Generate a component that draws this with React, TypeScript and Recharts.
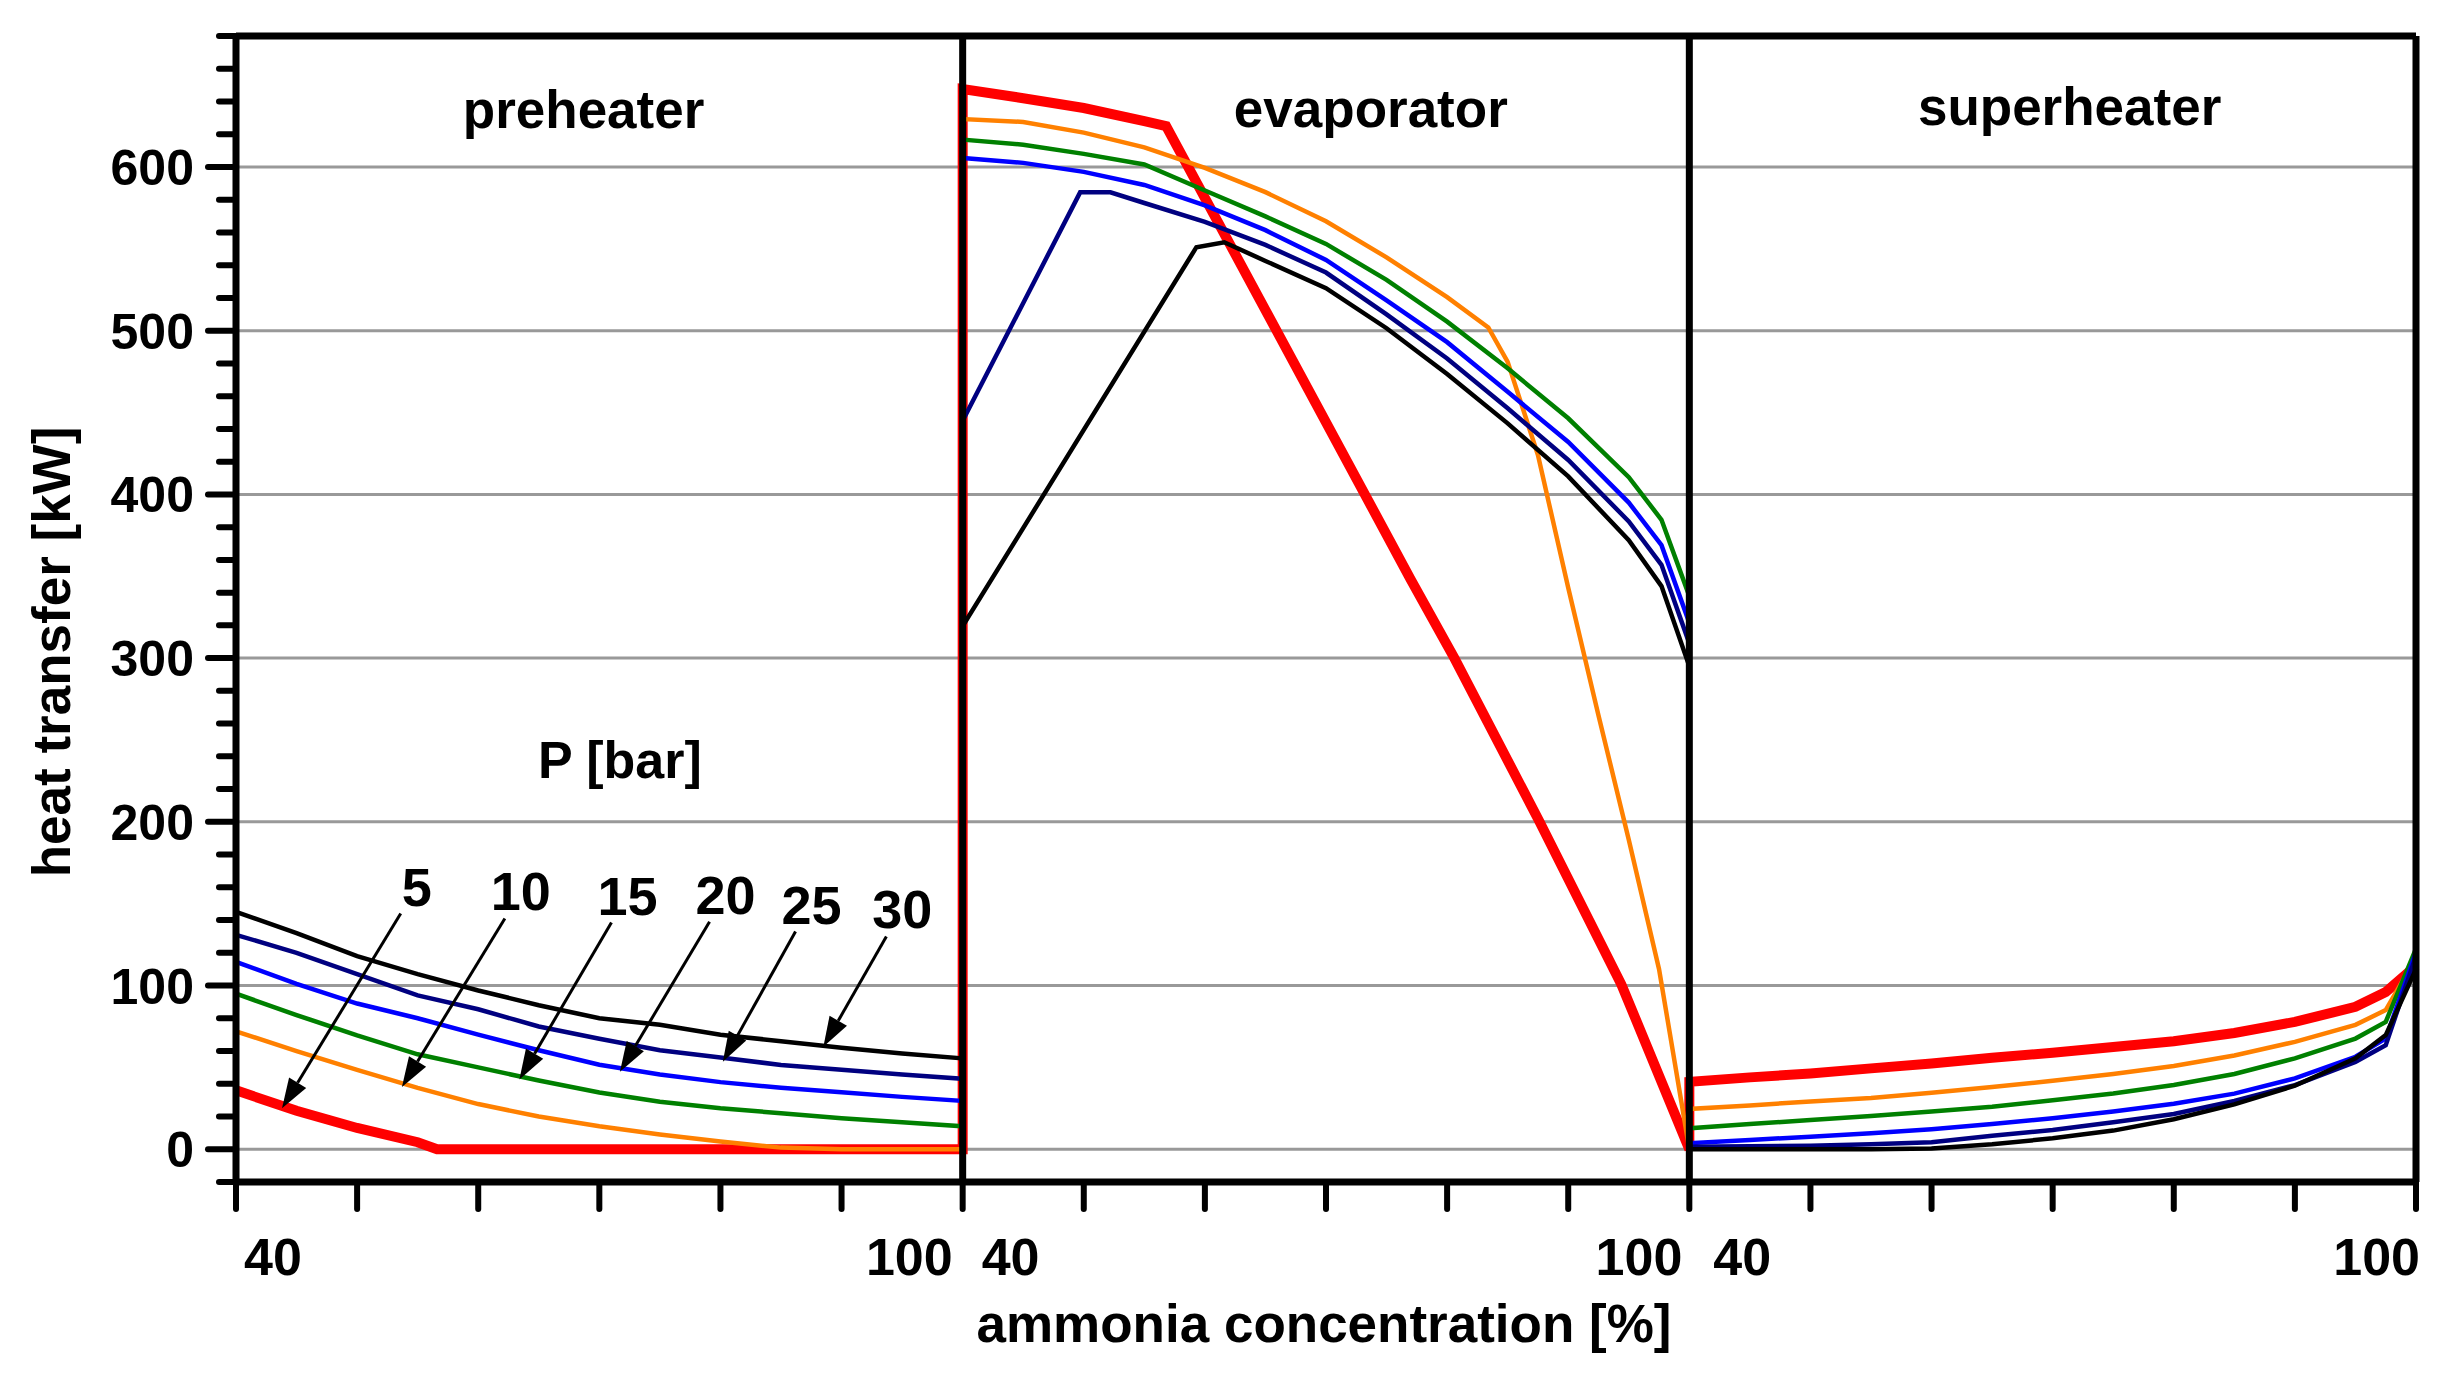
import React from 'react';
import {
  LineChart,
  Line,
  XAxis,
  YAxis,
  ReferenceLine,
  ReferenceDot,
  Label,
} from 'recharts';

// concentration grids [%] for each heat exchanger section
const GRID_5 = [40, 45, 50, 55, 60, 65, 70, 75, 80, 85, 90, 95, 100];
const GRID_EVAP = [40, 45, 50, 55, 60, 65, 70, 75, 80, 85, 90, 95, 97.7, 100];
const GRID_SUPER = [40, 45, 50, 55, 60, 65, 70, 75, 80, 85, 90, 95, 97.5, 100];

// preheater heat transfer [kW]
const PRE_RED_X = [40, 45, 50, 55, 56.6, 100];
const PRE_RED = [36, 23.5, 13, 4.3, 0, 0];
const PRE_ORANGE = [72, 60, 48.5, 37.5, 27.6, 20, 14, 9, 4.7, 1, 0, 0, 0];
const PRE_GREEN = [95, 82, 69.5, 58, 50, 42, 34.7, 29, 25, 22, 19, 16.5, 14];
const PRE_BLUE = [114.5, 101, 89, 80, 70, 60.5, 51.6, 45.7, 41, 37.6, 34.8, 32, 29.5];
const PRE_NAVY = [131, 120, 107, 94, 85.5, 75, 67.5, 60.5, 56, 51.5, 48.5, 45.7, 43];
const PRE_BLACK = [145, 132, 118, 107, 97, 88, 80, 76, 70, 66, 62, 58.5, 55.5];

// evaporator heat transfer [kW]
const EVAP_RED_X = [40, 45, 50, 55, 56.8, 77, 80.6, 87.6, 94.4, 100];
const EVAP_RED = [647.6, 642, 636, 628, 625, 348, 300, 200.5, 100.5, 0];
const EVAP_ORANGE_X = [40, 45, 50, 55, 60, 65, 70, 75, 80, 83.4, 85, 87.5, 90, 92.5, 95, 97.5, 100];
const EVAP_ORANGE = [629.3, 627.5, 621, 612, 599.5, 584.6, 566.8, 544.8, 520.5, 502, 481, 424, 343, 265, 189, 110, 0];
const EVAP_GREEN = [616.7, 613.6, 608, 601.5, 585.6, 569.8, 553, 531, 505.5, 477, 446.5, 410.5, 384.5, 337.8];
const EVAP_BLUE = [605.5, 602.5, 597, 589, 576.5, 561.4, 543.2, 518.5, 493, 462.7, 432, 395, 369, 321.5];
const EVAP_NAVY_X = [40, 49.7, 52.2, 55, 60, 65, 70, 75, 80, 85, 90, 95, 97.7, 100];
const EVAP_NAVY = [445, 584.5, 584.5, 578, 566.5, 552.4, 535.5, 510, 483, 452.6, 421, 383.5, 357, 309];
const EVAP_BLACK_X = [40, 59.3, 61.6, 65, 70, 75, 80, 85, 90, 95, 97.7, 100];
const EVAP_BLACK = [319.5, 551, 554, 542.6, 526, 501.5, 473.5, 443.4, 411, 372, 344, 295];

// superheater heat transfer [kW]
const SUP_RED = [41.2, 43.9, 46.3, 49.4, 52.4, 55.9, 59, 62.4, 66, 71, 77.8, 87, 96, 112];
const SUP_ORANGE = [24.6, 26.8, 29.2, 31.3, 34.5, 38, 41.8, 46, 50.8, 57.3, 65.6, 76, 85, 117];
const SUP_GREEN = [12.8, 15.4, 17.9, 20.3, 23, 26, 29.9, 34, 39.2, 46, 55.5, 67.6, 77.8, 122.5];
const SUP_BLUE = [3.7, 5.7, 7.7, 9.8, 12.2, 15.4, 18.9, 23, 27.8, 34, 43.3, 56.5, 67.6, 120.5];
const SUP_NAVY = [1.6, 1.8, 2.2, 3, 4.3, 8.3, 11.8, 16.5, 21.5, 29.5, 39.2, 53.4, 63.6, 118];
const SUP_BLACK = [0, 0, 0, 0, 0.5, 3, 6.7, 11.4, 18.3, 27.4, 38.8, 55.5, 69.7, 110];

const PANEL_NAMES = ['preheater', 'evaporator', 'superheater'];
const PRESSURES = [5, 10, 15, 20, 25, 30];
const Y_TICKS = Array.from({ length: 36 }, (_, i) => -20 + i * 20);
const Y_GRID = [0, 100, 200, 300, 400, 500, 600];
const X_TICKS = Array.from({ length: 19 }, (_, i) => 40 + i * 10);

// the three sections share one x axis, each shifted by 60
const PANEL_SHIFT = 60;

const join = (parts: [number[], number[]][]) =>
  parts.flatMap(([xs, ys], p) => xs.map((c, i) => ({ x: c + p * PANEL_SHIFT, y: ys[i] })));

const SERIES = [
  { p: 5, color: '#ff0000', width: 10, data: join([[PRE_RED_X, PRE_RED], [EVAP_RED_X, EVAP_RED], [GRID_SUPER, SUP_RED]]) },
  { p: 10, color: '#ff8000', width: 4.5, data: join([[GRID_5, PRE_ORANGE], [EVAP_ORANGE_X, EVAP_ORANGE], [GRID_SUPER, SUP_ORANGE]]) },
  { p: 15, color: '#008000', width: 4.5, data: join([[GRID_5, PRE_GREEN], [GRID_EVAP, EVAP_GREEN], [GRID_SUPER, SUP_GREEN]]) },
  { p: 20, color: '#0000ff', width: 4.5, data: join([[GRID_5, PRE_BLUE], [GRID_EVAP, EVAP_BLUE], [GRID_SUPER, SUP_BLUE]]) },
  { p: 25, color: '#000080', width: 4.5, data: join([[GRID_5, PRE_NAVY], [EVAP_NAVY_X, EVAP_NAVY], [GRID_SUPER, SUP_NAVY]]) },
  { p: 30, color: '#000000', width: 4.5, data: join([[GRID_5, PRE_BLACK], [EVAP_BLACK_X, EVAP_BLACK], [GRID_SUPER, SUP_BLACK]]) },
];

// annotation arrows, in axis units: [from x, from y, tip x, tip y]
const ARROWS: [number, number, number, number][] = [
  [53.6, 144, 43.8, 25],
  [62.2, 141, 53.7, 38],
  [71.0, 138.5, 63.4, 42.6],
  [79.1, 139, 71.7, 47.3],
  [86.2, 133, 80.2, 53.4],
  [93.7, 130, 88.5, 62.6],
];
const PANEL_LABEL_POS: [number, number][] = [[68.7, 624], [133.7, 624.5], [191.4, 625.5]];

const FONT = '"Liberation Sans", Arial, sans-serif';

const YTick = (props: any) => {
  const { x, y, payload } = props;
  const v = payload.value;
  const major = v % 100 === 0 && v >= 0 && v <= 600;
  return (
    <g>
      <line x1={x - (major ? 28 : 17)} y1={y} x2={x} y2={y} stroke="#000" strokeWidth={6} strokeLinecap="round" />
      {major && (
        <text x={x - 42} y={y + 18} textAnchor="end" fontFamily={FONT} fontWeight="bold" fontSize={50} fill="#000">
          {v}
        </text>
      )}
    </g>
  );
};

const XTick = (props: any) => {
  const { x, y, payload } = props;
  const v = payload.value;
  const t = (dx: number, anchor: string, s: string) => (
    <text x={x + dx} y={y + 93} textAnchor={anchor} fontFamily={FONT} fontWeight="bold" fontSize={52} fill="#000">
      {s}
    </text>
  );
  return (
    <g>
      <line x1={x} y1={y} x2={x} y2={y + 27} stroke="#000" strokeWidth={6} strokeLinecap="round" />
      {v === 40 && t(8, 'start', '40')}
      {v === 100 && t(-10, 'end', '100')}
      {v === 100 && t(19, 'start', '40')}
      {v === 160 && t(-7, 'end', '100')}
      {v === 160 && t(24, 'start', '40')}
      {v === 220 && t(4, 'end', '100')}
    </g>
  );
};

const Arrow = (props: any, label: number) => {
  const { x1, y1, x2, y2 } = props;
  const dx = x2 - x1;
  const dy = y2 - y1;
  const len = Math.sqrt(dx * dx + dy * dy);
  const ux = dx / len;
  const uy = dy / len;
  const hl = 30;
  const hw = 10;
  const bx = x2 - ux * hl;
  const by = y2 - uy * hl;
  const pts = `${x2},${y2} ${bx - uy * hw},${by + ux * hw} ${bx + uy * hw},${by - ux * hw}`;
  return (
    <g>
      <line x1={x1} y1={y1} x2={bx} y2={by} stroke="#000" strokeWidth={3} />
      <polygon points={pts} fill="#000" />
      <text x={x1 + 16} y={y1 - 8} textAnchor="middle" fontFamily={FONT} fontWeight="bold" fontSize={54} fill="#000">
        {label}
      </text>
    </g>
  );
};

const TextAt = (props: any, s: string, size: number) => (
  <text x={props.cx} y={props.cy} textAnchor="middle" fontFamily={FONT} fontWeight="bold" fontSize={size} fill="#000">
    {s}
  </text>
);

export default function App() {
  return (
    <div style={{ width: 2452, height: 1384, background: '#fff' }}>
      <style>{'body{margin:0;background:#fff}'}</style>
      <LineChart width={2452} height={1384} margin={{ top: 36, right: 36, left: 0, bottom: 0 }}>
        <XAxis
          type="number"
          dataKey="x"
          domain={[40, 220]}
          ticks={X_TICKS}
          interval={0}
          height={202}
          tickSize={0}
          tickMargin={0}
          tick={<XTick />}
          axisLine={{ stroke: '#000', strokeWidth: 7 }}
          allowDuplicatedCategory={false}
        >
          <Label
            content={(p: any) => (
              <text
                x={p.viewBox.x + p.viewBox.width / 2 - 2}
                y={p.viewBox.y + 160}
                textAnchor="middle"
                fontFamily={FONT}
                fontWeight="bold"
                fontSize={53}
                fill="#000"
              >
                ammonia concentration [%]
              </text>
            )}
          />
        </XAxis>
        <YAxis
          type="number"
          domain={[-20, 680]}
          ticks={Y_TICKS}
          interval={0}
          width={236}
          tickSize={0}
          tickMargin={0}
          tick={<YTick />}
          axisLine={{ stroke: '#000', strokeWidth: 7 }}
        >
          <Label
            content={(p: any) => {
              const cx = 70;
              const cy = p.viewBox.y + 616;
              return (
                <text
                  x={cx}
                  y={cy}
                  transform={`rotate(-90, ${cx}, ${cy})`}
                  textAnchor="middle"
                  fontFamily={FONT}
                  fontWeight="bold"
                  fontSize={53}
                  fill="#000"
                >
                  heat transfer [kW]
                </text>
              );
            }}
          />
        </YAxis>

        {Y_GRID.map((v) => (
          <ReferenceLine key={`g${v}`} y={v} stroke="#999999" strokeWidth={3} />
        ))}

        {SERIES.map((s) => (
          <Line
            key={s.p}
            data={s.data}
            dataKey="y"
            type="linear"
            stroke={s.color}
            strokeWidth={s.width}
            dot={false}
            activeDot={false}
            isAnimationActive={false}
          />
        ))}

        {/* section frame */}
        <ReferenceLine y={680} stroke="#000" strokeWidth={7} />
        <ReferenceLine x={100} stroke="#000" strokeWidth={7} />
        <ReferenceLine x={160} stroke="#000" strokeWidth={7} />
        <ReferenceLine x={220} stroke="#000" strokeWidth={7} />

        {PANEL_NAMES.map((name, i) => (
          <ReferenceDot
            key={name}
            x={PANEL_LABEL_POS[i][0]}
            y={PANEL_LABEL_POS[i][1]}
            r={0}
            shape={(p: any) => TextAt(p, name, 53)}
          />
        ))}
        <ReferenceDot x={71.7} y={227} r={0} shape={(p: any) => TextAt(p, 'P [bar]', 52)} />

        {ARROWS.map((a, i) => (
          <ReferenceLine
            key={`a${i}`}
            segment={[{ x: a[0], y: a[1] }, { x: a[2], y: a[3] }]}
            shape={(p: any) => Arrow(p, PRESSURES[i])}
          />
        ))}
      </LineChart>
    </div>
  );
}
